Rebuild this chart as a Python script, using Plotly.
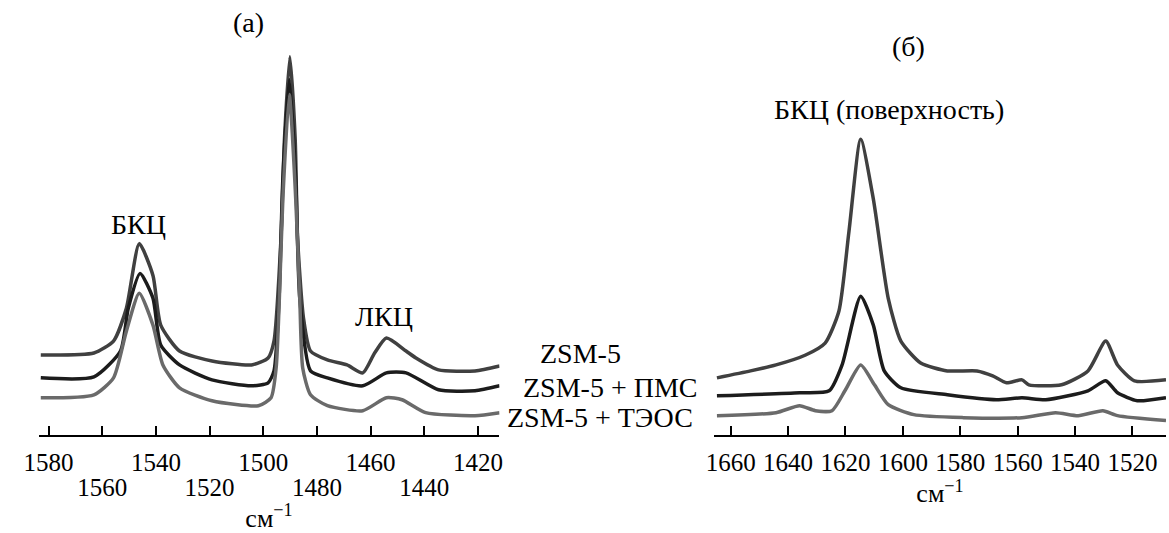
import plotly.graph_objects as go

# ---------------- Data: panel (a) ----------------
wn_a_zsm = [1582.9, 1563.1, 1555.8, 1551.0, 1546.2, 1541.1, 1538.2, 1531.2, 1519.1, 1504.4, 1498.2, 1496.0,
            1493.4, 1492.1, 1490.1, 1488.1, 1487.2, 1485.0, 1482.4, 1476.1, 1468.8, 1462.9, 1458.5, 1454.1,
            1446.8, 1443.1, 1434.7, 1421.1, 1411.9]
ab_a_zsm = [0.80, 0.82, 0.94, 1.27, 1.92, 1.60, 1.10, 0.84, 0.74, 0.70, 0.77, 0.94,
            1.97, 2.97, 3.80, 2.97, 1.97, 1.17, 0.84, 0.75, 0.70, 0.62, 0.82, 0.97,
            0.84, 0.77, 0.65, 0.64, 0.69]

wn_a_pms = [1582.9, 1563.1, 1553.2, 1550.3, 1545.9, 1541.1, 1538.2, 1531.2, 1519.1, 1504.4, 1498.2, 1496.0,
            1494.1, 1492.7, 1490.3, 1487.9, 1486.4, 1482.4, 1476.1, 1462.9, 1454.1, 1446.8, 1434.7, 1421.1,
            1411.9]
ab_a_pms = [0.57, 0.58, 0.84, 1.27, 1.62, 1.37, 0.90, 0.70, 0.55, 0.49, 0.52, 0.64,
            1.37, 2.57, 3.57, 2.57, 1.37, 0.64, 0.57, 0.49, 0.62, 0.62, 0.45, 0.44,
            0.49]

wn_a_teos = [1582.9, 1563.1, 1555.8, 1551.0, 1546.2, 1541.1, 1537.4, 1531.2, 1519.1, 1501.8, 1497.1, 1495.2,
             1494.0, 1492.7, 1490.3, 1487.9, 1486.4, 1485.3, 1482.4, 1476.1, 1462.9, 1454.1, 1448.3, 1439.5,
             1421.1, 1411.9]
ab_a_teos = [0.37, 0.40, 0.57, 1.04, 1.42, 1.10, 0.70, 0.47, 0.34, 0.29, 0.37, 0.67,
             1.37, 2.37, 3.42, 2.37, 1.37, 0.67, 0.40, 0.29, 0.24, 0.37, 0.35, 0.22,
             0.19, 0.22]

# ---------------- Data: panel (б) ----------------
wn_b_zsm = [1664.8, 1653.1, 1644.2, 1633.9, 1627.1, 1622.3, 1618.8, 1614.7, 1610.3, 1605.1, 1600.7, 1593.8,
            1584.5, 1574.2, 1568.7, 1563.9, 1558.5, 1556.1, 1544.7, 1535.5, 1529.3, 1525.2, 1519.3, 1508.3]
ab_b_zsm = [0.57, 0.64, 0.70, 0.80, 0.92, 1.24, 2.04, 2.97, 2.37, 1.37, 0.94, 0.72,
            0.64, 0.64, 0.59, 0.52, 0.55, 0.50, 0.50, 0.64, 0.94, 0.70, 0.54, 0.55]

wn_b_pms = [1664.8, 1636.0, 1625.7, 1621.2, 1614.7, 1610.3, 1606.5, 1600.7, 1584.5, 1567.4, 1558.5, 1550.2,
            1535.5, 1529.3, 1525.2, 1518.3, 1508.3]
ab_b_pms = [0.39, 0.42, 0.44, 0.70, 1.39, 1.10, 0.64, 0.47, 0.40, 0.35, 0.37, 0.35,
            0.44, 0.54, 0.42, 0.34, 0.37]

wn_b_teos = [1664.8, 1644.2, 1636.0, 1630.5, 1624.7, 1620.2, 1614.7, 1609.9, 1605.1, 1596.2, 1579.0, 1558.5,
             1546.8, 1538.9, 1530.3, 1525.2, 1508.3]
ab_b_teos = [0.19, 0.22, 0.29, 0.24, 0.24, 0.44, 0.70, 0.50, 0.30, 0.20, 0.17, 0.17,
             0.22, 0.19, 0.24, 0.19, 0.14]

ticks_a_row1 = [1580, 1540, 1500, 1460, 1420]
ticks_a_row2 = [1560, 1520, 1480, 1440]
ticks_b = [1660, 1640, 1620, 1600, 1580, 1560, 1540, 1520]

series_names = ["ZSM-5", "ZSM-5 + ПМС", "ZSM-5 + ТЭОС"]
colors = ["#404040", "#1c1c1c", "#6a6a6a"]

FONT = "Liberation Serif, Times New Roman, serif"
TICK_SIZE = 25
LABEL_SIZE = 28
TITLE_SIZE = 26
W, H = 1169, 533

fig = go.Figure()
for wn, ab, name, col in [(wn_a_zsm, ab_a_zsm, series_names[0], colors[0]),
                          (wn_a_pms, ab_a_pms, series_names[1], colors[1]),
                          (wn_a_teos, ab_a_teos, series_names[2], colors[2])]:
    fig.add_trace(go.Scatter(x=wn, y=ab, mode="lines", name=name, xaxis="x", yaxis="y",
                             line=dict(color=col, width=3.5, shape="spline", smoothing=0.6),
                             showlegend=False))
for wn, ab, name, col in [(wn_b_zsm, ab_b_zsm, series_names[0], colors[0]),
                          (wn_b_pms, ab_b_pms, series_names[1], colors[1]),
                          (wn_b_teos, ab_b_teos, series_names[2], colors[2])]:
    fig.add_trace(go.Scatter(x=wn, y=ab, mode="lines", name=name, xaxis="x2", yaxis="y2",
                             line=dict(color=col, width=3.5, shape="spline", smoothing=0.6),
                             showlegend=False))
# empty helper trace so the second (lower) tick-label row axis of panel (a) is drawn
fig.add_trace(go.Scatter(x=ticks_a_row2, y=[None] * len(ticks_a_row2), mode="lines",
                         xaxis="x3", yaxis="y", showlegend=False, hoverinfo="skip"))

ydom = [(H - 437) / H, (H - 37) / H]
xdom_a = [24 / W, 492 / W]
range_a = [1583.7, 1412.0]
tickfont = dict(family=FONT, size=TICK_SIZE, color="black")
axis_common = dict(showline=True, linecolor="black", linewidth=2, ticks="inside", ticklen=9,
                   tickwidth=1.5, tickcolor="black", showgrid=False, zeroline=False,
                   tickfont=tickfont)

fig.update_layout(
    width=W, height=H, margin=dict(l=0, r=0, t=0, b=0),
    paper_bgcolor="white", plot_bgcolor="white",
    font=dict(family=FONT, color="black"),
    xaxis=dict(domain=xdom_a, range=range_a, anchor="y",
               tickmode="array", tickvals=ticks_a_row1, ticktext=[str(t) for t in ticks_a_row1],
               minor=dict(tickmode="array", tickvals=ticks_a_row2, ticks="inside", ticklen=9,
                          tickwidth=1.5, tickcolor="black", showgrid=False),
               ticklabelstandoff=4, **axis_common),
    xaxis3=dict(domain=xdom_a, range=range_a, anchor="y", overlaying="x", side="bottom",
                showline=False, ticks="", showgrid=False, zeroline=False,
                tickmode="array", tickvals=ticks_a_row2, ticktext=[str(t) for t in ticks_a_row2],
                tickfont=tickfont, ticklabelstandoff=35,
                title=dict(text="см<sup>−1</sup>", font=dict(family=FONT, size=TITLE_SIZE), standoff=14)),
    yaxis=dict(domain=ydom, range=[0, 4.0], visible=False, anchor="x"),
    xaxis2=dict(domain=[710 / W, 1.0], range=[1665.8, 1508.3], anchor="y2",
                tickmode="array", tickvals=ticks_b, ticktext=[str(t) for t in ticks_b],
                ticklabelstandoff=4,
                title=dict(text="см<sup>−1</sup>", font=dict(family=FONT, size=TITLE_SIZE), standoff=2),
                **axis_common),
    yaxis2=dict(domain=ydom, range=[0, 4.0], visible=False, anchor="x2"),
)

def ann(text, px, py, size=LABEL_SIZE):
    fig.add_annotation(text=text, x=px / W, y=1 - py / H, xref="paper", yref="paper",
                       xanchor="center", yanchor="middle", showarrow=False,
                       font=dict(family=FONT, size=size, color="black"))

ann("(а)", 237, 23)
ann("(б)", 907, 47)
ann("БКЦ", 125, 226)
ann("ЛКЦ", 375, 318)
ann("БКЦ (поверхность)", 888, 110)
ann(series_names[0], 574, 356)
ann(series_names[1], 604, 390)
ann(series_names[2], 594, 420)

fig.write_html("out.html", config={"displayModeBar": False},
               post_script="document.body.style.margin='0';document.body.style.overflow='hidden';")
